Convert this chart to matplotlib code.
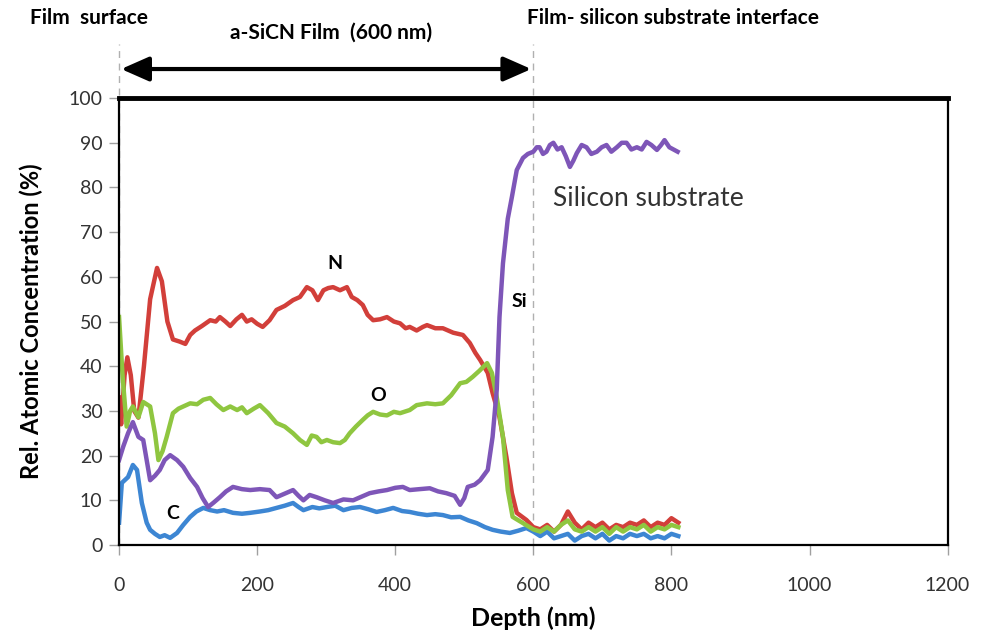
import matplotlib
matplotlib.use("Agg")
import matplotlib.pyplot as plt
import numpy as np

plt.rcParams['font.family'] = ['Lato', 'DejaVu Sans']

# ---------------- data ----------------
# Nitrogen (film region)
x_N = [0,3,8,12,17,22,28,36,45,55,62,70,78,88,96,103,110,120,132,140,146,154,161,170,178,185,192,200,208,218,
       228,240,252,262,272,280,288,296,303,310,320,330,337,345,353,360,368,378,388,398,407,415,421,431,440,446,
       458,469,484,498,508,516,523,534,541,551,561,569,576,590]
y_N = [33,27,38,42,38,30,28.5,40,55,62,59,50,46,45.5,45,47,48,49,50.3,50,51,50,49,50.5,51.5,50,50.5,49.5,48.8,50.3,
       52.6,53.5,54.8,55.5,57.7,57,54.8,57,57.5,57.7,57,57.7,55.5,54.8,53.7,51.5,50.3,50.5,51,50,49.6,48.5,48.8,48,48.8,49.2,
       48.5,48.5,47.5,47,45.2,43,41.4,38.5,34,28.6,19.7,11.6,7.2,5.6]

# Oxygen (film region)
x_O = [0,5,11,16,20,28,35,45,52,57,63,69,78,86,93,103,113,122,132,141,151,161,171,178,185,195,204,216,228,240,
       252,262,272,279,286,293,301,310,320,327,334,343,353,360,368,378,388,398,407,421,431,446,458,469,481,494,
       503,512,522,533,540,547,556,563,570,585]
y_O = [51,38,26.5,30,31,28.6,32,31,25,19,21,24.2,29.5,30.5,31,31.7,31.5,32.5,32.9,31.5,30.2,31,30.2,30.8,29.5,30.5,
       31.3,29.5,27.3,26.5,25,23.5,22.4,24.5,24.2,23,23.5,23,22.8,23.5,25,26.5,28,29,29.8,29.2,29,29.8,29.5,30.2,
       31.3,31.7,31.5,31.7,33.5,36.2,36.5,37.6,39,40.7,38.5,33.1,24.2,12.3,6.3,4.9]

# Carbon (film region)
x_C = [0,4,13,20,26,33,40,45,52,59,66,74,84,93,103,112,122,132,142,152,165,178,190,204,216,228,240,252,260,267,
       280,290,301,313,325,337,349,361,373,385,397,410,421,433,446,458,469,481,494,506,518,530,541,553,566,578,590]
y_C = [5,13.9,15.2,17.9,16.8,9.4,5,3.4,2.5,1.8,2.2,1.6,2.7,4.5,6.3,7.5,8.3,7.8,7.5,7.8,7.2,7.0,7.2,7.5,7.8,8.3,
       8.8,9.4,8.5,7.8,8.5,8.2,8.5,8.8,7.8,8.3,8.5,8.0,7.4,7.8,8.3,7.6,7.4,7.0,6.7,6.9,6.7,6.2,6.3,5.5,4.9,4.0,
       3.4,3.0,2.7,3.2,3.8]

# Silicon (film + transition)
x_Si = [0,6,13,20,28,35,45,52,59,66,74,84,93,103,113,121,129,137,146,155,165,178,190,204,218,228,240,252,260,267,
        276,286,298,310,325,339,351,363,376,388,400,411,421,435,450,462,474,486,494,500,505,515,523,534,541,547,
        551,556,563,569,576,585,592]
y_Si = [19,22,25,27.5,24.2,23.5,14.5,15.5,16.8,19,20.1,19,17.5,15,13,10.5,8.5,9.5,10.7,12,13,12.5,12.3,12.5,12.3,
        10.7,11.5,12.3,11,10,11.2,10.7,10,9.4,10.2,10,10.8,11.6,12,12.3,12.8,13,12.3,12.5,12.7,12,11.6,11,9,10.5,
        13,13.5,14.5,16.8,24.2,34.7,51,63,73,77.9,83.9,86.6,87.5]

# Substrate region (600-810 nm)
x_sub = [600,610,620,630,640,650,660,670,680,690,700,710,720,730,740,750,760,770,780,790,800,810]
y_N_sub = [4.0,3.5,4.5,3.0,4.5,7.5,5.0,3.5,5.0,4.0,5.0,3.5,4.5,4.0,5.0,4.5,5.5,4.0,5.0,4.5,6.0,5.0]
y_O_sub = [3.5,3.0,4.0,3.0,4.5,5.5,3.5,3.0,4.0,3.0,4.0,2.5,4.0,3.0,4.0,3.5,4.5,3.0,4.0,3.5,4.5,4.0]
y_C_sub = [3.0,2.0,3.0,1.5,2.0,2.5,1.0,2.0,2.5,1.5,2.5,1.0,2.0,1.5,2.5,2.0,2.5,1.5,2.0,1.5,2.5,2.0]
x_Si_sub = [600,605,609,614,619,624,629,635,641,647,653,658,663,670,677,684,692,699,706,713,721,728,735,742,750,
            757,764,771,779,785,790,797,803,809]
y_Si_sub = [88,89,89,87.5,88,89.5,90,88.5,89,87,84.6,86,87.7,89.5,89,87.5,88,89,89.5,88,89,90,90,88.5,89,
            88.5,90.2,89.5,88.4,89.5,90.6,89,88.5,88]

xticks = [0, 200, 400, 600, 800, 1000, 1200]
yticks = [0, 10, 20, 30, 40, 50, 60, 70, 80, 90, 100]

# ---------------- figure ----------------
fig = plt.figure(figsize=(9.84, 6.44), dpi=100)
ax = fig.add_axes([0.121, 0.1537, 0.842, 0.694])

c_N, c_O, c_C, c_Si = '#d23f3a', '#8fc640', '#3d86d3', '#7e56b8'
lw = 3.2
ax.plot(x_N + x_sub, y_N + y_N_sub, color=c_N, lw=lw, solid_joinstyle='round')
ax.plot(x_C + x_sub, y_C + y_C_sub, color=c_C, lw=lw, solid_joinstyle='round')
ax.plot(x_O + x_sub, y_O + y_O_sub, color=c_O, lw=lw, solid_joinstyle='round')
ax.plot(x_Si + x_Si_sub, y_Si + y_Si_sub, color=c_Si, lw=lw, solid_joinstyle='round')

ax.set_xlim(0, 1200)
ax.set_ylim(0, 100)
ax.set_xticks(xticks)
ax.set_yticks(yticks)
ax.tick_params(axis='both', direction='out', length=7, width=1, color='#a0a0a0',
               labelsize=14, labelcolor='#333333')
ax.tick_params(axis='x', pad=16)
ax.tick_params(axis='y', pad=5)
for s in ['left', 'right', 'bottom']:
    ax.spines[s].set_linewidth(1.6)
    ax.spines[s].set_color('black')
ax.spines['top'].set_linewidth(3.5)
ax.spines['top'].set_color('black')

ax.set_xlabel('Depth (nm)', fontsize=18, fontweight='bold', labelpad=9)
ax.set_ylabel('Rel. Atomic Concentration (%)', fontsize=17, fontweight='bold', labelpad=18)

# dashed guide lines (film surface / interface)
for xv in [0, 600]:
    ax.plot([xv, xv], [0, 112], ls=(0, (5, 4)), color='#b0b0b0', lw=1, clip_on=False, zorder=0)

# double arrow for film thickness
ax.annotate('', xy=(3, 106.5), xytext=(597, 106.5), annotation_clip=False,
            arrowprops=dict(arrowstyle='<|-|>,head_length=1.7,head_width=0.75', color='black', lw=3,
                            shrinkA=0, shrinkB=0))

# header texts
fig.text(30 / 984, 1 - 18 / 644, 'Film  surface', fontsize=15, fontweight='bold', va='center', ha='left')
fig.text(331 / 984, 1 - 33 / 644, 'a-SiCN Film  (600 nm)', fontsize=15, fontweight='bold', va='center', ha='center')
fig.text(527 / 984, 1 - 18 / 644, 'Film- silicon substrate interface', fontsize=15, fontweight='bold',
         va='center', ha='left')

# curve labels
ax.text(312, 63, 'N', fontsize=14, fontweight='bold', ha='center', va='center')
ax.text(375, 33.5, 'O', fontsize=14, fontweight='bold', ha='center', va='center')
ax.text(77, 7, 'C', fontsize=14, fontweight='bold', ha='center', va='center')
ax.text(580, 54.5, 'Si', fontsize=14, fontweight='bold', ha='center', va='center')
ax.text(628, 77.5, 'Silicon substrate', fontsize=19, color='#333333', ha='left', va='center')

fig.savefig('out.png', dpi=100)
